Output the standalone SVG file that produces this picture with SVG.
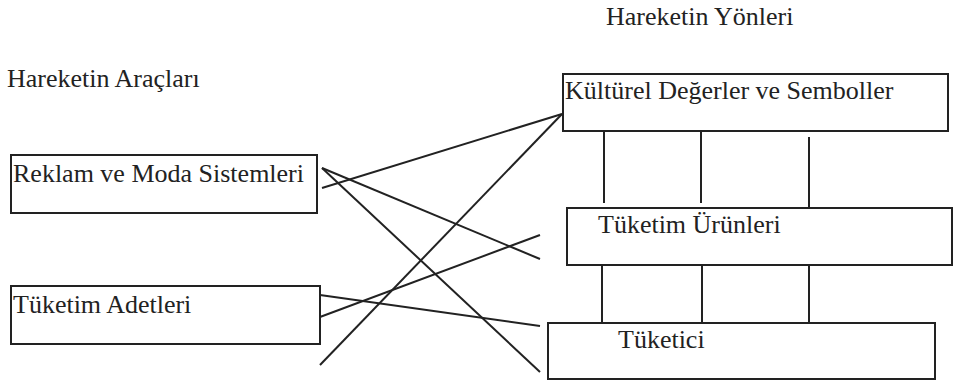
<svg xmlns="http://www.w3.org/2000/svg" width="958" height="384" viewBox="0 0 958 384">
<style>
.bg{fill:#fff}
.box{fill:#fff;stroke:#222;stroke-width:2}
.t{font-family:"Liberation Serif","Times New Roman",serif;font-size:26px;fill:#222}
.c{stroke:#222;stroke-width:2;fill:none}
</style>
<rect class="bg" x="0" y="0" width="958" height="384"/>
<text class="t" x="606" y="25">Hareketin Yönleri</text>
<text class="t" x="7" y="87">Hareketin Araçları</text>
<g id="connectors">
<line class="c" x1="604" y1="131" x2="604" y2="203"/>
<line class="c" x1="701" y1="131" x2="701" y2="203"/>
<line class="c" x1="809" y1="137" x2="809" y2="208"/>
<line class="c" x1="602" y1="258" x2="602" y2="323"/>
<line class="c" x1="702" y1="258" x2="702" y2="323"/>
<line class="c" x1="809" y1="258" x2="809" y2="323"/>
<line class="c" x1="322" y1="188" x2="562" y2="114"/>
<line class="c" x1="322" y1="168" x2="540" y2="259"/>
<line class="c" x1="322" y1="168" x2="540" y2="372"/>
<line class="c" x1="320" y1="317" x2="540" y2="235"/>
<line class="c" x1="320" y1="295" x2="540" y2="326"/>
<line class="c" x1="320" y1="365" x2="562" y2="114"/>
</g>
<g id="node-reklam">
<rect class="box" x="11" y="155" width="306" height="58"/>
<text class="t" x="13" y="182">Reklam ve Moda Sistemleri</text>
</g>
<g id="node-adetler">
<rect class="box" x="11" y="286" width="309" height="58"/>
<text class="t" x="13" y="313">Tüketim Adetleri</text>
</g>
<g id="node-kulturel">
<rect class="box" x="563" y="74" width="385" height="57"/>
<text class="t" x="565" y="99">Kültürel Değerler ve Semboller</text>
</g>
<g id="node-urunler">
<rect class="box" x="567" y="208" width="385" height="57"/>
<text class="t" x="598" y="233">Tüketim Ürünleri</text>
</g>
<g id="node-tuketici">
<rect class="box" x="548" y="323" width="387" height="56"/>
<text class="t" x="618" y="348">Tüketici</text>
</g>
</svg>
